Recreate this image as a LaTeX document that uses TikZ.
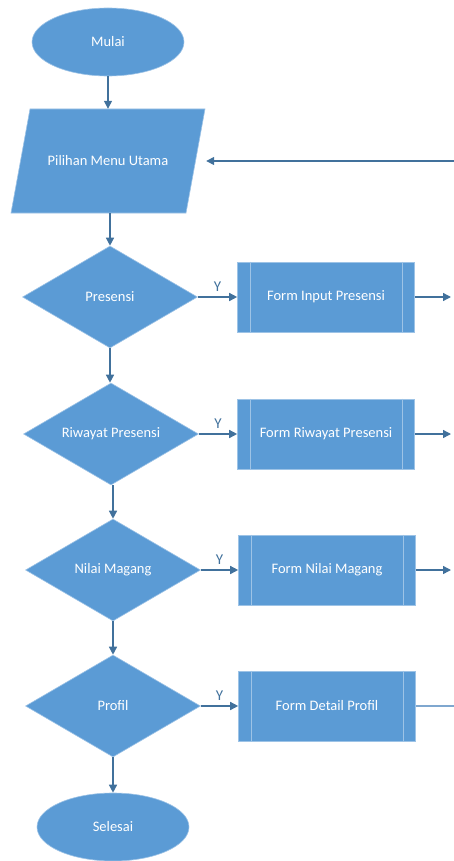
\documentclass[tikz,border=0pt]{standalone}
\usepackage{fontspec}
\setmainfont{Carlito}
\usetikzlibrary{shapes.geometric,arrows.meta}
\definecolor{boxblue}{HTML}{5B9BD5}
\definecolor{edgeblue}{HTML}{9DC3E6}
\definecolor{arrowblue}{HTML}{41719C}
\definecolor{faintblue}{HTML}{7FA7CF}
\tikzset{
  txt/.style={text=white, font=\fontsize{14.5}{16}\selectfont},
  terminal/.style={ellipse, fill=boxblue, draw=edgeblue, line width=0.6pt, minimum width=152pt, minimum height=68pt, inner sep=0pt, txt},
  menubox/.style={rectangle, minimum width=175pt, minimum height=104pt, inner sep=0pt, txt},
  decision/.style={diamond, aspect=1.7, fill=boxblue, draw=edgeblue, line width=0.6pt, minimum width=175pt, minimum height=102pt, inner sep=0pt, txt},
  procbox/.style={rectangle, fill=boxblue, draw=edgeblue, line width=0.6pt, minimum width=177pt, minimum height=70pt, inner sep=0pt, txt},
  arr/.style={draw=arrowblue, line width=1.4pt, -{Triangle[length=8pt,width=8pt]}},
  plainline/.style={draw=faintblue, line width=1.2pt},
  ylab/.style={text=arrowblue, font=\fontsize{15}{16}\selectfont}
}
\begin{document}
\begin{tikzpicture}[x=1pt,y=-1pt]
\useasboundingbox (0,0) rectangle (454,861);
\fill[boxblue, draw=edgeblue, line width=0.6pt] (30,109) -- (205,109) -- (186,213) -- (11,213) -- cycle;
\node[terminal] (mulai) at (108,42) {Mulai};
\node[menubox] (menu) at (108,161) {Pilihan Menu Utama};
\node[decision] (d1) at (110,297) {Presensi};
\node[decision] (d2) at (111,434) {Riwayat Presensi};
\node[decision] (d3) at (113,570) {Nilai Magang};
\node[decision] (d4) at (113,706) {Profil};
\node[terminal] (selesai) at (113,827) {Selesai};
\node[procbox] (p1) at (326,297) {Form Input Presensi};
\node[procbox] (p2) at (326,434) {Form Riwayat Presensi};
\node[procbox] (p3) at (327,570) {Form Nilai Magang};
\node[procbox] (p4) at (327,706) {Form Detail Profil};
\foreach \p in {p1,p2,p3,p4}{
  \draw[edgeblue, line width=0.6pt] ([xshift=13pt]\p.north west) -- ([xshift=13pt]\p.south west);
  \draw[edgeblue, line width=0.6pt] ([xshift=-13pt]\p.north east) -- ([xshift=-13pt]\p.south east);
}
\coordinate (loopin) at (454,161);
\coordinate (o1) at (451,297);
\coordinate (o2) at (451,434);
\coordinate (o3) at (451,570);
\coordinate (o4) at (454,706);
\draw[arr] (mulai) -- (menu);
\draw[arr] (d1.north |- menu.south) -- (d1.north);
\draw[arr] (loopin) -- ([xshift=10.5pt]menu.east);
\draw[arr] (d1.south) -- (d1.south |- d2.north);
\draw[arr] (d3.north |- d2.south) -- (d3.north);
\draw[arr] (d3) -- (d4);
\draw[arr] (d4) -- (selesai);
\draw[arr] (d1.east) -- node[ylab, above=1pt, pos=0.5] {Y} (p1.west);
\draw[arr] (d2.east) -- node[ylab, above=1pt, pos=0.5] {Y} (p2.west);
\draw[arr] (d3.east) -- node[ylab, above=1pt, pos=0.5] {Y} (p3.west);
\draw[arr] (d4.east) -- node[ylab, above=1pt, pos=0.5] {Y} (p4.west);
\draw[arr] (p1.east) -- (o1);
\draw[arr] (p2.east) -- (o2);
\draw[arr] (p3.east) -- (o3);
\draw[plainline] (p4.east) -- (o4);
\end{tikzpicture}
\end{document}
